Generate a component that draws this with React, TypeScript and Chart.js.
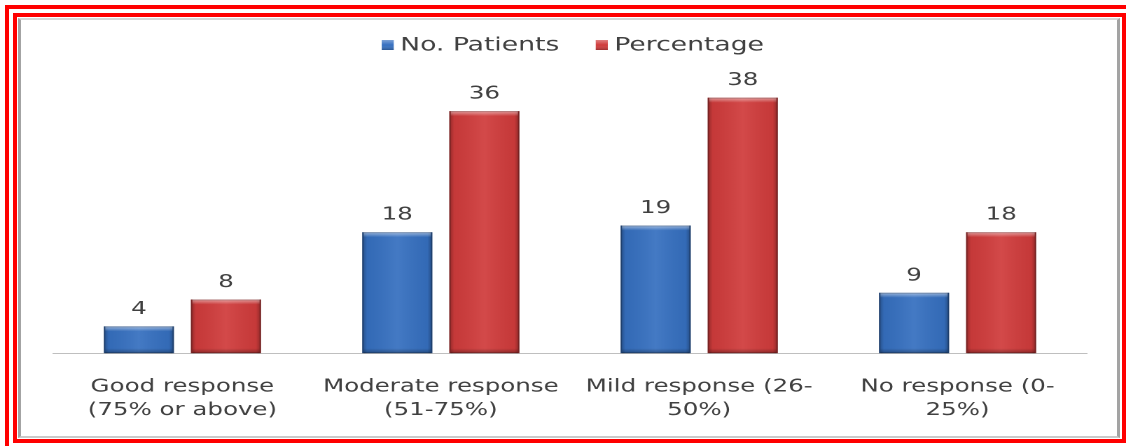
import React, { useEffect, useRef } from "react";
import { Chart, registerables } from "chart.js";

Chart.register(...registerables);

// Response categories (two-line axis labels)
const categories: string[][] = [
  ["Good response", "(75% or above)"],
  ["Moderate response", "(51-75%)"],
  ["Mild response (26-", "50%)"],
  ["No response (0-", "25%)"],
];

// Series values
const patients: number[] = [4, 18, 19, 9];
const percentage: number[] = [8, 36, 38, 18];

const seriesNames: string[] = ["No. Patients", "Percentage"];
const seriesColors: string[] = ["#3670c0", "#d03c3c"];

// The chart is laid out on a narrower canvas and widened horizontally,
// giving the broad lettering and bar shapes of the original graphic.
const CANVAS_W = 804;
const CANVAS_H = 446;
const STRETCH = 1126 / CANVAS_W;

const FONT = "'DejaVu Sans', sans-serif";
const TEXT = "#404040";

// Bevelled bar look + value labels above each bar
const bevelAndValues = {
  id: "bevelAndValues",
  afterDatasetsDraw(chart: any) {
    const ctx: CanvasRenderingContext2D = chart.ctx;
    chart.data.datasets.forEach((ds: any, di: number) => {
      const meta = chart.getDatasetMeta(di);
      meta.data.forEach((el: any, i: number) => {
        const { x, y, base, width } = el.getProps(["x", "y", "base", "width"], true);
        const l = x - width / 2;
        const r = x + width / 2;
        const t = Math.min(y, base);
        const b = Math.max(y, base);
        const h = b - t;
        ctx.save();

        // side shading: darker edges, lighter middle
        const sg = ctx.createLinearGradient(l, 0, r, 0);
        sg.addColorStop(0, "rgba(0,0,0,0.30)");
        sg.addColorStop(0.07, "rgba(0,0,0,0.05)");
        sg.addColorStop(0.5, "rgba(255,255,255,0.07)");
        sg.addColorStop(0.93, "rgba(0,0,0,0.05)");
        sg.addColorStop(1, "rgba(0,0,0,0.32)");
        ctx.fillStyle = sg;
        ctx.fillRect(l, t, width, h);

        // top bevel highlight
        const bev = Math.min(5, h / 2);
        const tg = ctx.createLinearGradient(0, t, 0, t + bev);
        tg.addColorStop(0, "rgba(255,255,255,0.5)");
        tg.addColorStop(1, "rgba(255,255,255,0)");
        ctx.fillStyle = tg;
        ctx.fillRect(l + 1, t, width - 2, bev);

        // bottom bevel shade
        const bg = ctx.createLinearGradient(0, b - bev, 0, b);
        bg.addColorStop(0, "rgba(0,0,0,0)");
        bg.addColorStop(1, "rgba(0,0,0,0.30)");
        ctx.fillStyle = bg;
        ctx.fillRect(l + 1, b - bev, width - 2, bev);

        ctx.strokeStyle = "rgba(0,0,0,0.22)";
        ctx.lineWidth = 1;
        ctx.strokeRect(l + 0.5, t + 0.5, width - 1, h - 1);

        // value label
        ctx.fillStyle = TEXT;
        ctx.font = `17.5px ${FONT}`;
        ctx.textAlign = "center";
        ctx.textBaseline = "middle";
        ctx.fillText(String(ds.data[i]), x, t - 17);
        ctx.restore();
      });
    });
  },
};

// Compact legend: small square swatch tight against its label, centred over the plot
const compactLegend = {
  id: "compactLegend",
  afterDraw(chart: any) {
    const ctx: CanvasRenderingContext2D = chart.ctx;
    const area = chart.chartArea;
    const boxW = 8.6;
    const boxH = 10;
    const gap = 4.6;
    const itemGap = 26;
    const baseline = 50.5;
    ctx.save();
    ctx.font = `19px ${FONT}`;
    const items = chart.data.datasets.map((ds: any) => ({
      text: ds.label as string,
      color: ds.backgroundColor as string,
      w: ctx.measureText(ds.label).width,
    }));
    const total =
      items.reduce((s: number, it: any) => s + boxW + gap + it.w, 0) + itemGap * (items.length - 1);
    let x = (area.left + area.right) / 2 + 2 - total / 2;
    items.forEach((it: any) => {
      const top = 40;
      ctx.fillStyle = it.color;
      ctx.fillRect(x, top, boxW, boxH);
      const g = ctx.createLinearGradient(0, top, 0, top + boxH);
      g.addColorStop(0, "rgba(255,255,255,0.35)");
      g.addColorStop(0.5, "rgba(255,255,255,0)");
      g.addColorStop(1, "rgba(0,0,0,0.25)");
      ctx.fillStyle = g;
      ctx.fillRect(x, top, boxW, boxH);
      x += boxW + gap;
      ctx.fillStyle = TEXT;
      ctx.textAlign = "left";
      ctx.textBaseline = "alphabetic";
      ctx.fillText(it.text, x, baseline);
      x += it.w + itemGap;
    });
    ctx.restore();
  },
};

export default function App() {
  const canvasRef = useRef<HTMLCanvasElement>(null);

  useEffect(() => {
    const canvas = canvasRef.current;
    if (!canvas) return;
    const chart = new Chart(canvas, {
      type: "bar",
      data: {
        labels: categories,
        datasets: [
          {
            label: seriesNames[0],
            data: patients,
            backgroundColor: seriesColors[0],
            borderWidth: 0,
            categoryPercentage: 0.674,
            barPercentage: 0.805,
          },
          {
            label: seriesNames[1],
            data: percentage,
            backgroundColor: seriesColors[1],
            borderWidth: 0,
            categoryPercentage: 0.674,
            barPercentage: 0.805,
          },
        ],
      },
      options: {
        responsive: false,
        animation: false,
        devicePixelRatio: 2,
        layout: { padding: { left: 38, right: 28, top: 66.75, bottom: 9.5 } },
        plugins: {
          legend: { display: false },
          tooltip: { enabled: false },
        },
        scales: {
          x: {
            grid: { display: false },
            border: { display: true, color: "#bfbfbf", width: 1 },
            ticks: {
              color: TEXT,
              font: { family: FONT, size: 17.5, lineHeight: 1.35 },
              padding: 14,
              maxRotation: 0,
              autoSkip: false,
            },
          },
          y: {
            display: false,
            min: 0,
            max: 42.6,
          },
        },
      },
      plugins: [bevelAndValues, compactLegend],
    });
    return () => chart.destroy();
  }, []);

  return (
    <div
      style={{
        position: "fixed",
        left: 0,
        top: 0,
        width: 1126,
        height: 446,
        background: "#ffffff",
        overflow: "hidden",
      }}
    >
      {/* outer red frame */}
      <div
        style={{
          position: "absolute",
          left: 5,
          top: 5,
          width: 1200,
          height: 500,
          boxSizing: "border-box",
          border: "4px solid #ff0000",
        }}
      />
      {/* inner red frame */}
      <div
        style={{
          position: "absolute",
          left: 13,
          top: 13,
          width: 1113,
          height: 430,
          boxSizing: "border-box",
          border: "4px solid #ff0000",
        }}
      />
      {/* chart panel border */}
      <div
        style={{
          position: "absolute",
          left: 18,
          top: 18,
          width: 1102,
          height: 420,
          boxSizing: "border-box",
          borderLeft: "3px solid #a3a3a3",
          borderRight: "3px solid #a3a3a3",
          borderTop: "2px solid #d6d6d6",
          borderBottom: "2px solid #cacaca",
          background: "#ffffff",
        }}
      />
      <canvas
        ref={canvasRef}
        width={CANVAS_W}
        height={CANVAS_H}
        style={{
          position: "absolute",
          left: 0,
          top: 0,
          display: "block",
          transform: `scaleX(${STRETCH})`,
          transformOrigin: "0 0",
        }}
      />
    </div>
  );
}
